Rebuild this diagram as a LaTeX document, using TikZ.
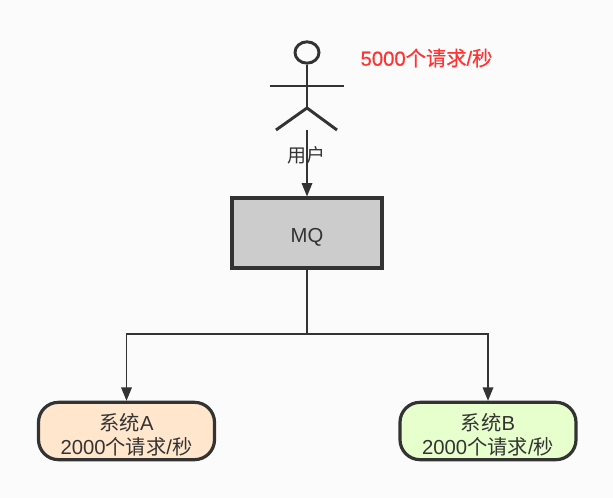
\documentclass[tikz,border=0pt]{standalone}
\usepackage{fontspec}
\setmainfont{Liberation Sans}
\newfontfamily\cjk{Noto Sans CJK SC}
\newfontfamily\redlatin[FakeBold=0.5]{Liberation Sans}
\newfontfamily\redcjk[FakeBold=0.5]{Noto Sans CJK SC}
\usetikzlibrary{arrows.meta,shapes.geometric}
\definecolor{inkgray}{HTML}{333333}
\definecolor{pagegray}{HTML}{FBFBFB}
\definecolor{mqgray}{HTML}{CCCCCC}
\definecolor{sysorange}{HTML}{FFE6CC}
\definecolor{sysgreen}{HTML}{E6FFCC}
\definecolor{reqred}{HTML}{FF3333}
\newcommand{\reqrate}[1]{#1{\cjk 个请求}/{\cjk 秒}}
\newcommand{\sysname}[1]{\rule{0pt}{18pt}{\cjk 系统}#1}
\tikzset{
    every node/.style={text=inkgray, font=\fontsize{15.2}{18}\selectfont},
    box/.style={draw=inkgray, line width=2.4pt, minimum width=112.5pt, minimum height=52.5pt, inner sep=0pt, fill=mqgray, text height=17pt},
    sysbox/.style={draw=inkgray, line width=2.4pt, rounded corners=15pt, minimum width=132pt, minimum height=43pt, inner sep=0pt, align=center},
    stick/.style={draw=inkgray, line width=2.2pt},
    conn/.style={draw=inkgray, line width=0.9pt, -{Triangle[length=10pt,width=8pt]}}
}
\begin{document}
\begin{tikzpicture}[x=0.75pt,y=-0.75pt]
    \path[fill=pagegray] (0,0) rectangle (613,498);

    % user
    \node[stick, ellipse, minimum width=18pt, minimum height=16pt, inner sep=0pt] (head) at (307,52.5) {};
    \coordinate (hip) at (307,108);
    \coordinate (feet) at (307,130);
    \draw[stick] (head.south) -- (hip);
    \draw[stick] (270,86) -- (343.5,86);
    \draw[stick] (276,130) -- (hip) -- (337,130);
    \node[font=\fontsize{14.2}{18}\selectfont] (user) at (306.5,155) {\cjk 用户};
    \node[text=reqred] (rate) at (426.5,58) {\redlatin 5000{\redcjk 个请求}/{\redcjk 秒}};

    % boxes
    \node[box] (mq) at (307,233) {MQ};
    \node[sysbox, fill=sysorange] (sysa) at (126.5,431) {\sysname{A}\\\reqrate{2000}};
    \node[sysbox, fill=sysgreen] (sysb) at (488,431) {\sysname{B}\\\reqrate{2000}};

    % connectors
    \coordinate (split) at (307,334);
    \draw[conn] (feet) -- (mq.north);
    \draw[conn] (mq.south) -- (split) -| (sysa.north);
    \draw[conn] (split) -| (sysb.north);
\end{tikzpicture}
\end{document}
